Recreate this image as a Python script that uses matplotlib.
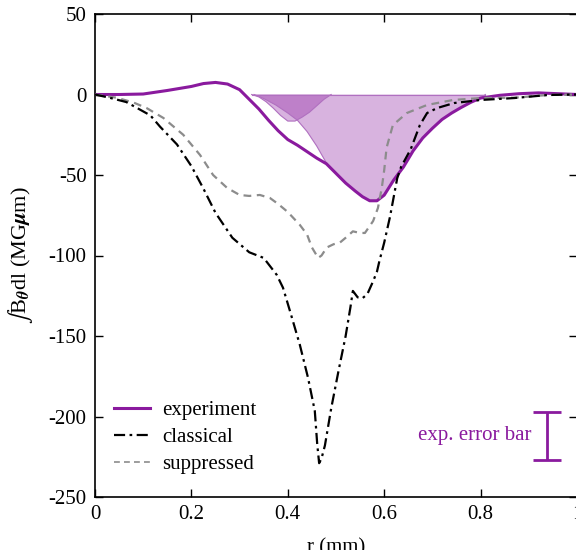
import matplotlib
matplotlib.use("Agg")
import matplotlib.pyplot as plt
from matplotlib.lines import Line2D

plt.rcParams["font.family"] = ["Liberation Serif", "DejaVu Serif"]
plt.rcParams["mathtext.fontset"] = "stix"
plt.rcParams["axes.unicode_minus"] = False

# measured experimental profile
r_exp = [0, 0.05, 0.10, 0.15, 0.20, 0.225, 0.25, 0.275, 0.30, 0.32, 0.34, 0.36,
         0.38, 0.40, 0.42, 0.44, 0.46, 0.48, 0.50, 0.52, 0.54, 0.555, 0.57, 0.585,
         0.60, 0.62, 0.64, 0.66, 0.68, 0.70, 0.72, 0.74, 0.76, 0.78, 0.80, 0.84,
         0.88, 0.92, 0.96, 1.0]
b_exp = [0, 0, 0.3, 2.5, 5, 6.8, 7.5, 6.5, 3, -3, -9, -16, -22.5, -28, -31.5,
         -35.5, -39.5, -43, -49, -55, -60, -63.5, -66, -66, -62.5, -53, -45, -35,
         -27, -21, -15.5, -11.5, -8, -4.8, -2.2, -0.5, 0.5, 1, 0.5, 0]

# decomposition into two components
r_comp1 = [0.325, 0.34, 0.355, 0.37, 0.385, 0.40, 0.415, 0.43, 0.445, 0.46, 0.475, 0.49]
b_comp1 = [0, -1.5, -4.5, -8.5, -13, -16.5, -16.5, -14, -11, -7, -3, 0]

r_comp2 = [0.33, 0.35, 0.375, 0.40, 0.42, 0.44, 0.46, 0.48, 0.50, 0.52, 0.54,
           0.555, 0.57, 0.585, 0.60, 0.62, 0.64, 0.66, 0.68, 0.70, 0.72, 0.74,
           0.76, 0.78, 0.80, 0.81]
b_comp2 = [0, -2.5, -6.5, -11.5, -16, -23, -32, -42.5, -49, -55, -60, -63.5,
           -66, -66, -62.5, -53, -45, -35, -27, -21, -15.5, -11.5, -8, -4.8,
           -2.2, 0]

# classical transport model
r_cls = [0, 0.03, 0.065, 0.085, 0.10, 0.115, 0.135, 0.17, 0.20, 0.225, 0.25,
         0.285, 0.32, 0.35, 0.377, 0.39, 0.405, 0.425, 0.442, 0.456, 0.461,
         0.465, 0.47, 0.477, 0.49, 0.505, 0.52, 0.53, 0.535, 0.545, 0.555,
         0.565, 0.577, 0.585, 0.59, 0.60, 0.612, 0.627, 0.635, 0.655, 0.674,
         0.689, 0.71, 0.745, 0.80, 0.87, 0.94, 1.0]
b_cls = [0, -2, -4.7, -8, -10.5, -13, -20, -31, -44.5, -58.5, -73.5, -89, -98,
         -101.5, -112, -120, -135, -155.5, -176, -196.5, -217, -229, -226, -218,
         -195, -172, -150, -132, -122, -126, -126.5, -124, -116, -110, -103.5,
         -92, -76, -52, -45, -34, -19, -11.5, -8.4, -5.3, -3.4, -2.2, -0.3, 0]

# suppressed transport model
r_sup = [0, 0.045, 0.08, 0.107, 0.142, 0.183, 0.218, 0.245, 0.274, 0.30, 0.32,
         0.342, 0.363, 0.38, 0.40, 0.425, 0.44, 0.45, 0.463, 0.47, 0.481, 0.495,
         0.508, 0.52, 0.535, 0.55, 0.56, 0.577, 0.587, 0.595, 0.60, 0.605, 0.618,
         0.647, 0.689, 0.743, 0.80, 0.87, 0.94, 1.0]
b_sup = [0, -2, -5, -8.4, -14.6, -25, -37.6, -50, -58, -62.4, -63, -62.4, -64.3,
         -68, -73, -81, -87, -95, -101.5, -100, -95, -93, -92, -89, -85, -86,
         -86, -78.6, -70.5, -58, -47, -33, -19, -11.5, -6.5, -3.4, -2.2, -2.0,
         -0.3, 0]

# experimental error bar
err_r = 0.938
err_center = -212
err_half = 15

purple = "#8a1a9e"
fill_col = "#8a1a9e"
edge_col = "#b070c0"

fig = plt.figure(figsize=(5.76, 5.5), dpi=100)
ax = fig.add_axes([95 / 576, 1 - 497 / 550, 482 / 576, 483 / 550])

ax.fill_between(r_comp1, 0, b_comp1, facecolor=fill_col, alpha=0.33,
                edgecolor="none", zorder=1)
ax.fill_between(r_comp2, 0, b_comp2, facecolor=fill_col, alpha=0.33,
                edgecolor="none", zorder=1)
ax.plot(r_comp1, b_comp1, color=edge_col, lw=0.8, zorder=2)
ax.plot(r_comp2, b_comp2, color=edge_col, lw=0.8, zorder=2)
ax.plot([r_comp1[0], r_comp2[-1]], [0, 0], color=edge_col, lw=0.8, zorder=2)

ax.plot(r_exp, b_exp, color=purple, lw=2.2, zorder=3, solid_capstyle="round")
ax.plot(r_sup, b_sup, color="#8c8c8c", lw=1.6, dashes=(3.5, 2.5), zorder=4)
ax.plot(r_cls, b_cls, color="black", lw=1.6, dashes=(5, 2, 1.2, 2), zorder=5)

ax.errorbar([err_r], [err_center], yerr=[err_half], color=purple, lw=2,
            capsize=10, capthick=2, zorder=5)
ax.text(0.905, err_center, "exp. error bar", color=purple, fontsize=15,
        ha="right", va="center")

ax.set_xlim(0, 1)
ax.set_ylim(-250, 50)
ax.set_xticks([0, 0.2, 0.4, 0.6, 0.8, 1.0])
ax.set_xticklabels(["0", "0.2", "0.4", "0.6", "0.8", "1"])
ax.set_yticks([-250, -200, -150, -100, -50, 0, 50])
ax.tick_params(direction="in", top=True, right=True, length=6, width=1,
               labelsize=15, pad=6)
for s in ax.spines.values():
    s.set_linewidth(1.2)

ax.set_xlabel("r (mm)", fontsize=15, labelpad=10)
ax.set_ylabel(r"$\int$B$_{\boldsymbol{\theta}}$dl (MG$\boldsymbol{\mu}$m)",
              fontsize=16, labelpad=10)

handles = [
    Line2D([], [], color=purple, lw=2.2),
    Line2D([], [], color="black", lw=1.6, dashes=(5, 2, 1.2, 2)),
    Line2D([], [], color="#8c8c8c", lw=1.2, dashes=(3.5, 2.5)),
]
ax.legend(handles, ["experiment", "classical", "suppressed"], loc="lower left",
          bbox_to_anchor=(0.0015, 0.008), frameon=False, fontsize=15,
          handlelength=1.7, handletextpad=0.58, labelspacing=0.37)

fig.savefig("out.png", dpi=100)
